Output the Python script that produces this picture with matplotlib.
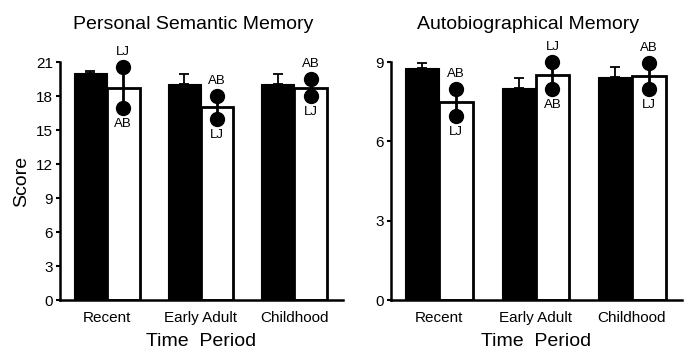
import matplotlib
matplotlib.use("Agg")
import matplotlib.pyplot as plt
import numpy as np

plt.rcParams['font.family'] = ['Liberation Sans', 'DejaVu Sans']

periods = ["Recent", "Early Adult", "Childhood"]

# Personal Semantic Memory
psm_control = [20.0, 19.05, 19.1]
psm_control_err = [0.2, 0.85, 0.8]
psm_patient = [18.75, 17.0, 18.75]
psm_LJ = [20.6, 16.0, 18.0]
psm_AB = [16.9, 18.0, 19.5]

# Autobiographical Memory
am_control = [8.79, 8.02, 8.45]
am_control_err = [0.19, 0.36, 0.35]
am_patient = [7.48, 8.5, 8.48]
am_LJ = [6.97, 9.0, 7.97]
am_AB = [7.98, 7.97, 8.98]

fig = plt.figure(figsize=(6.94, 3.54), dpi=100)
ax1 = fig.add_axes([60/694, 1-300/354, (343-60)/694, (300-62)/354])
ax2 = fig.add_axes([391/694, 1-300/354, (682-391)/694, (300-62)/354])

w = 0.35


def panel(ax, title, ctrl, cerr, pat, lj, ab, ymax, yticks, off):
    x = np.arange(len(periods))
    ax.bar(x - w/2, ctrl, width=w, color='black', edgecolor='black', linewidth=0.8, zorder=2)
    ax.errorbar(x - w/2, ctrl, yerr=[np.zeros(len(ctrl)), cerr], fmt='none',
                ecolor='black', elinewidth=1.3, capsize=3.5, capthick=1.3, zorder=1)
    ax.bar(x + w/2, pat, width=w, color='white', edgecolor='black', linewidth=2.0, zorder=2)
    for i in range(len(periods)):
        xi = x[i] + w/2
        lo, hi = min(lj[i], ab[i]), max(lj[i], ab[i])
        ax.plot([xi, xi], [lo, hi], color='black', lw=2.0, zorder=3, clip_on=False)
        ax.plot([xi, xi], [lj[i], ab[i]], 'o', color='black', ms=10, zorder=4, clip_on=False)
        top_lab = 'LJ' if lj[i] >= ab[i] else 'AB'
        bot_lab = 'AB' if top_lab == 'LJ' else 'LJ'
        ax.annotate(top_lab, (xi, hi), xytext=(0, 10.5), textcoords='offset points',
                    ha='center', va='center', fontsize=9.5, zorder=5)
        ax.annotate(bot_lab, (xi, lo), xytext=(0, -11.5), textcoords='offset points',
                    ha='center', va='center', fontsize=9.5, zorder=5)
    ax.set_xlim(-0.5, 2.52)
    ax.set_ylim(0, ymax)
    ax.set_yticks(yticks)
    ax.set_xticks(x)
    ax.set_xticklabels(periods, fontsize=11)
    ax.tick_params(axis='y', labelsize=11, direction='out', length=3, width=1.5, pad=2)
    ax.tick_params(axis='x', length=0, pad=8)
    for s in ['top', 'right']:
        ax.spines[s].set_visible(False)
    for s in ['left', 'bottom']:
        ax.spines[s].set_linewidth(1.8)
    ax.set_xlabel("Time  Period", fontsize=14, labelpad=6)
    ax.set_title(title, fontsize=14, pad=24, x=off)


panel(ax1, "Personal Semantic Memory", psm_control, psm_control_err, psm_patient,
      psm_LJ, psm_AB, 21, [0, 3, 6, 9, 12, 15, 18, 21], 0.47)
ax1.set_ylabel("Score", fontsize=14, labelpad=4)
panel(ax2, "Autobiographical Memory", am_control, am_control_err, am_patient,
      am_LJ, am_AB, 9, [0, 3, 6, 9], 0.47)

fig.savefig("out.png", dpi=100)
